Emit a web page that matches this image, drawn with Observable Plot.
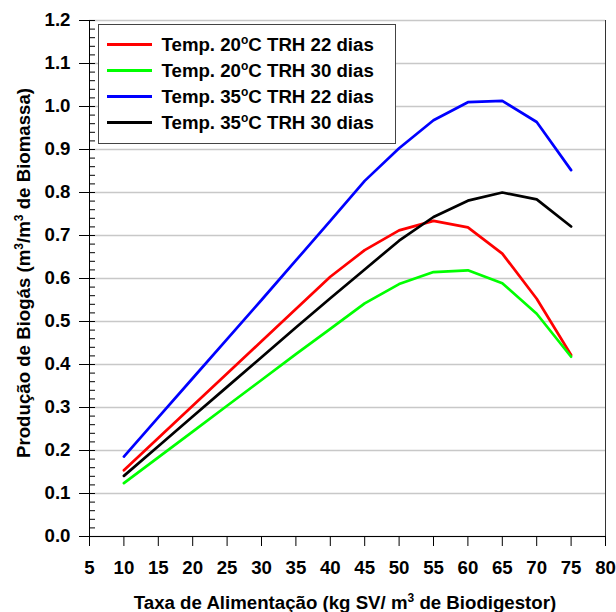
<!DOCTYPE html>
<html>
<head>
<meta charset="utf-8">
<script src="https://cdn.jsdelivr.net/npm/d3@7"></script>
<script src="https://cdn.jsdelivr.net/npm/@observablehq/plot@0.6"></script>
<style>
  html, body { margin: 0; padding: 0; background: #fff; }
  #wrap { position: relative; width: 616px; height: 612px; font-family: "Liberation Sans", Arial, sans-serif; }
  #legend { position: absolute; left: 98px; top: 24px; width: 296px; height: 118px; background: #fff;
    border: 1.5px solid #444; box-sizing: content-box; font-weight: bold; font-size: 18.67px; color: #000; }
  .row { position: absolute; left: 0; height: 20px; width: 290px; }
  .sw { position: absolute; left: 7.5px; width: 45px; height: 3px; top: 8.5px; }
  .lbl { position: absolute; left: 62.5px; top: 0; white-space: nowrap; line-height: 20px; }
  .lbl sup { font-size: 12px; vertical-align: 7px; line-height: 0; }
</style>
</head>
<body>
<div id="wrap"></div>
<script>
const feed = [10, 15, 20, 25, 30, 35, 40, 45, 50, 55, 60, 65, 70, 75];
const seriesNames = ["Temp. 20°C TRH 22 dias", "Temp. 20°C TRH 30 dias", "Temp. 35°C TRH 22 dias", "Temp. 35°C TRH 30 dias"];
const legendTemps = ["20", "20", "35", "35"];
const legendTRH = ["22", "30", "22", "30"];
const seriesColors = ["#ff0000", "#00ff00", "#0000ff", "#000000"];
const t20_22 = [0.154, 0.229, 0.304, 0.379, 0.454, 0.529, 0.604, 0.666, 0.712, 0.734, 0.719, 0.658, 0.553, 0.422];
const t20_30 = [0.124, 0.184, 0.244, 0.304, 0.364, 0.424, 0.483, 0.542, 0.587, 0.615, 0.619, 0.589, 0.518, 0.418];
const t35_22 = [0.186, 0.277, 0.368, 0.459, 0.550, 0.642, 0.734, 0.827, 0.903, 0.968, 1.010, 1.013, 0.964, 0.852];
const t35_30 = [0.141, 0.210, 0.279, 0.348, 0.417, 0.486, 0.554, 0.621, 0.688, 0.743, 0.781, 0.800, 0.784, 0.721];
const xTicks = [5, 10, 15, 20, 25, 30, 35, 40, 45, 50, 55, 60, 65, 70, 75, 80];
const yTicks = [0.0, 0.1, 0.2, 0.3, 0.4, 0.5, 0.6, 0.7, 0.8, 0.9, 1.0, 1.1, 1.2];
const yMinor = d3.range(0, 61).map(i => i / 50);

const allSeries = [t20_22, t20_30, t35_22, t35_30];
const data = [];
allSeries.forEach((vals, si) => vals.forEach((v, i) => data.push({x: feed[i], y: v, s: seriesNames[si]})));

const font = '"Liberation Sans", Arial, sans-serif';
const FS = 18.67;
const W = 616, H = 612, mL = 89, mR = 11, mT = 20, mB = 76;

const chart = Plot.plot({
  width: W, height: H,
  marginLeft: mL, marginRight: mR, marginTop: mT, marginBottom: mB,
  style: {fontFamily: font, fontSize: FS + "px", fontWeight: "bold", color: "#000", background: "#fff"},
  x: {domain: [5, 80], label: null},
  y: {domain: [0, 1.2], label: null},
  color: {domain: seriesNames, range: seriesColors},
  marks: [
    Plot.gridY(yTicks, {stroke: "#c8c8c8", strokeOpacity: 1, strokeWidth: 1.5}),
    Plot.axisY({ticks: yTicks, tickSize: 10, tickPadding: 9, tickFormat: d3.format(".1f"), label: null, fontSize: FS, fontWeight: "bold"}),
    Plot.axisY({ticks: yMinor, tickSize: -6, tickFormat: () => "", label: null}),
    Plot.axisX({ticks: xTicks, tickSize: 10, tickPadding: 14, tickFormat: d3.format("d"), label: null, fontSize: FS, fontWeight: "bold"}),
    Plot.ruleX([5], {stroke: "#000", strokeWidth: 1}),
    Plot.ruleX([80], {stroke: "#333", strokeWidth: 1}),
    Plot.ruleY([0], {stroke: "#000", strokeWidth: 1}),
    Plot.line(data, {x: "x", y: "y", z: "s", stroke: "s", strokeWidth: 2.7, strokeLinejoin: "miter"})
  ]
});

const svg = d3.select(chart);
// axis titles
const yt = svg.append("text")
  .attr("transform", `translate(29.5, 273) rotate(-90)`)
  .attr("text-anchor", "middle").attr("font-family", font).attr("font-size", FS).attr("font-weight", "bold").attr("fill", "#000");
yt.append("tspan").text("Produção de Biogás (m");
yt.append("tspan").attr("font-size", 12).attr("dy", -7).text("3");
yt.append("tspan").attr("dy", 7).text("/m");
yt.append("tspan").attr("font-size", 12).attr("dy", -7).text("3");
yt.append("tspan").attr("dy", 7).text(" de Biomassa)");

const xt = svg.append("text")
  .attr("x", 345).attr("y", 609)
  .attr("text-anchor", "middle").attr("font-family", font).attr("font-size", FS).attr("font-weight", "bold").attr("fill", "#000");
xt.append("tspan").text("Taxa de Alimentação (kg SV/ m");
xt.append("tspan").attr("font-size", 12).attr("dy", -7).text("3");
xt.append("tspan").attr("dy", 7).text(" de Biodigestor)");

const wrap = document.getElementById("wrap");
wrap.appendChild(chart);

// legend
const leg = document.createElement("div");
leg.id = "legend";
seriesNames.forEach((name, i) => {
  const row = document.createElement("div");
  row.className = "row";
  row.style.top = (9.5 + i * 26) + "px";
  const sw = document.createElement("div");
  sw.className = "sw";
  sw.style.background = seriesColors[i];
  const lbl = document.createElement("div");
  lbl.className = "lbl";
  lbl.innerHTML = `Temp. ${legendTemps[i]}<sup>o</sup>C TRH ${legendTRH[i]} dias`;
  row.appendChild(sw);
  row.appendChild(lbl);
  leg.appendChild(row);
});
wrap.appendChild(leg);
</script>
</body>
</html>
